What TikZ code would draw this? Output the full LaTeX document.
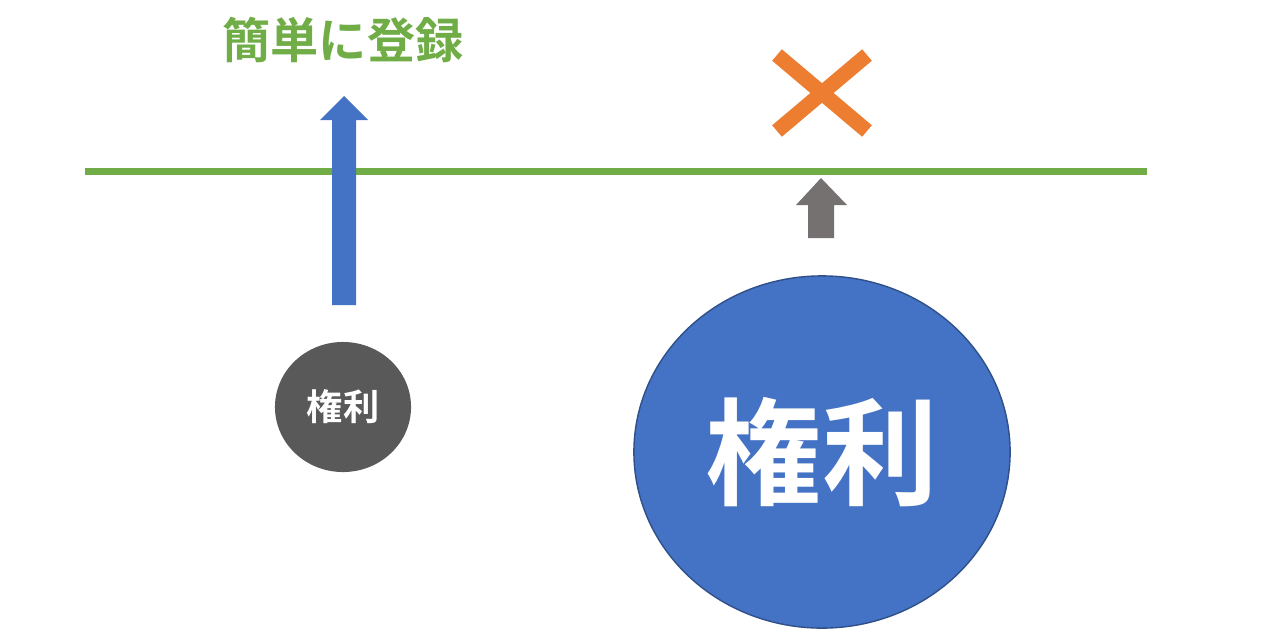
\documentclass[tikz,border=0pt]{standalone}
\usepackage{fontspec}
\usetikzlibrary{shapes.geometric}
\newfontfamily\cjk{Noto Sans CJK JP}[BoldFont={* Bold}]
\definecolor{lineGreen}{HTML}{70AD47}
\definecolor{rightBlue}{HTML}{4472C4}
\definecolor{crossOrange}{HTML}{ED7D31}
\definecolor{stepGray}{HTML}{767171}
\definecolor{smallGray}{HTML}{595959}
\begin{document}
\begin{tikzpicture}[x=0.01cm, y=-0.01cm,
        right/.style={ellipse, text=white, inner sep=0pt, font=\cjk\bfseries}
    ]
        \useasboundingbox (0,0) rectangle (1267,636);

        % Threshold line
        \draw[lineGreen, line width=0.07cm] (85,171) -- (1147,171);
        \node[text=lineGreen, font=\cjk\bfseries\fontsize{13.7pt}{15pt}\selectfont] (label) at (343,40) {簡単に登録};

        % Small right
        \node[right, fill=smallGray, minimum width=1.36cm, minimum height=1.3cm] (small) at (343,407)
            {\fontsize{10.3pt}{11pt}\selectfont 権利};
        \fill[rightBlue] (332,305) -- (332,120) -- (320,120) -- (344,96) -- (368,120) -- (356,120) -- (356,305) -- cycle;

        % Large right
        \node[right, fill=rightBlue, draw=rightBlue!70!black, thin, minimum width=3.76cm, minimum height=3.52cm] (large) at (822,452)
            {\fontsize{33pt}{36pt}\selectfont 権利};
        \fill[stepGray] (808,238) -- (808,205) -- (796,205) -- (821,178) -- (847,205) -- (834,205) -- (834,238) -- cycle;

        % Cross
        \draw[crossOrange, line width=0.15cm] (777,55) -- (867,131) (867,55) -- (777,131);
    \end{tikzpicture}
\end{document}
